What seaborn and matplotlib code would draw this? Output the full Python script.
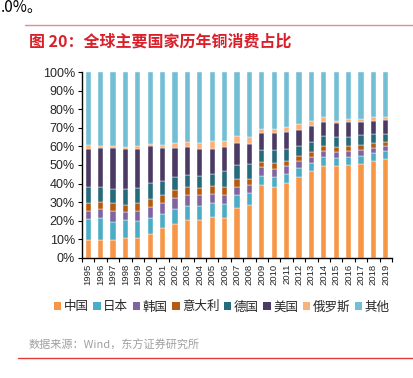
import numpy as np
import pandas as pd
import matplotlib
matplotlib.use("Agg")
import matplotlib.pyplot as plt
from matplotlib.patches import Patch
from matplotlib.ticker import PercentFormatter, FixedLocator
import seaborn as sns

years = [str(y) for y in range(1995, 2020)]

china   = [9.5, 9.8, 9.8, 10.5, 10.7, 12.7, 15.9, 18.2, 20.4, 20.4, 22.2, 21.3, 26.8,
           28.4, 39.1, 38.2, 40.4, 43.8, 46.6, 49.5, 49.5, 50.0, 50.4, 52.2, 53.4]
japan   = [11.3, 11.8, 9.7, 9.7, 9.3, 8.9, 7.5, 7.9, 7.8, 7.5, 7.1, 7.5, 7.1,
           6.6, 4.8, 5.4, 5.0, 4.6, 4.7, 4.8, 4.3, 4.3, 4.2, 4.3, 4.3]
korea   = [4.4, 4.7, 6.0, 4.3, 5.2, 5.7, 5.9, 5.9, 5.8, 5.7, 5.2, 4.9, 4.2,
           4.1, 5.1, 4.3, 3.9, 3.8, 3.2, 3.2, 3.0, 3.0, 3.2, 2.4, 2.3]
italy   = [4.4, 3.9, 4.0, 4.2, 4.5, 4.5, 4.7, 4.6, 4.2, 4.1, 4.1, 4.5, 4.4,
           3.6, 2.8, 3.2, 2.9, 2.4, 2.5, 2.7, 2.7, 2.7, 2.9, 2.9, 2.5]
germany = [8.5, 8.2, 7.8, 8.6, 8.2, 8.6, 7.6, 7.0, 6.6, 6.6, 6.8, 8.4, 7.7,
           7.9, 6.0, 6.7, 6.4, 5.6, 5.3, 5.4, 5.3, 5.3, 5.2, 5.0, 4.3]
usa     = [20.7, 20.7, 21.8, 21.1, 20.9, 19.6, 17.3, 15.5, 14.7, 14.3, 13.2, 12.9, 11.6,
           10.8, 9.2, 9.2, 8.9, 8.6, 8.6, 7.5, 7.7, 7.8, 7.2, 7.1, 7.5]
russia  = [1.7, 1.3, 1.3, 1.1, 1.2, 1.3, 1.8, 2.7, 2.6, 3.2, 4.1, 3.5, 4.0,
           3.8, 2.5, 2.5, 2.9, 3.2, 3.0, 2.6, 1.4, 1.4, 1.7, 1.8, 1.7]
others  = [39.5, 39.6, 39.6, 40.5, 40.0, 38.7, 39.3, 38.2, 37.9, 38.2, 37.3, 37.0, 34.2,
           34.8, 30.5, 30.5, 29.6, 28.0, 26.1, 24.3, 26.1, 25.5, 25.2, 24.3, 24.0]

names = ["中国", "日本", "韩国", "意大利", "德国", "美国", "俄罗斯", "其他"]
colors = ["#F79646", "#4BACC6", "#8064A2", "#B65A10", "#266B7C", "#4B3A63", "#FAB079", "#72BED5"]

df = pd.DataFrame({"年份": years, "中国": china, "日本": japan, "韩国": korea,
                   "意大利": italy, "德国": germany, "美国": usa,
                   "俄罗斯": russia, "其他": others})

sns.set_style("white")
plt.rcParams["font.family"] = ["Liberation Sans", "Noto Sans CJK SC", "DejaVu Sans"]
cjk = ["Noto Sans CJK SC", "DejaVu Sans"]

fig = plt.figure(figsize=(4.13, 3.78), dpi=100)
ax = fig.add_axes([0.1985, 0.3175, 0.7505, 0.492])

bottom = np.zeros(len(years))
for name, c in zip(names, colors):
    sns.barplot(data=df, x="年份", y=name, color=c, width=0.42, bottom=bottom,
                edgecolor="white", linewidth=0.3, saturation=1, ax=ax)
    bottom = bottom + df[name].values

ax.set_xlim(-0.5, len(years) - 0.5)
ax.set_ylim(0, 100)
ax.set_yticks(range(0, 101, 10))
ax.yaxis.set_major_formatter(PercentFormatter(decimals=0))
ax.set_xlabel("")
ax.set_ylabel("")
ax.tick_params(axis="y", labelsize=9, length=3, width=0.8, color="black", pad=2, left=True)
ax.tick_params(axis="x", which="major", labelsize=6.8, length=0, rotation=90, pad=4)
ax.xaxis.set_minor_locator(FixedLocator(np.arange(-0.5, len(years), 1)))
ax.tick_params(axis="x", which="minor", length=3, width=0.8, color="black", bottom=True)
for s in ["top", "right"]:
    ax.spines[s].set_visible(False)
for s in ["left", "bottom"]:
    ax.spines[s].set_color("black")
    ax.spines[s].set_linewidth(1)

handles = [Patch(facecolor=c, edgecolor="none") for c in colors]
fig.legend(handles, names, loc="center", bbox_to_anchor=(0.537, 0.188), ncol=8,
           frameon=False, handlelength=0.6, handleheight=0.6, handletextpad=0.2,
           columnspacing=0.35, prop={"family": cjk, "size": 9})

fig.text(0.002, 0.968, ".0%。", fontsize=11, family=cjk, va="baseline", color="black")
fig.add_artist(plt.Line2D([0.06, 1.0], [0.934, 0.934], color="#E88A8A", linewidth=1))
fig.text(0.07, 0.89, "图 20：全球主要国家历年铜消费占比", fontsize=11.5, fontweight="bold",
         family=cjk, color="#D9202A", va="center")
fig.text(0.07, 0.087, "数据来源：Wind，东方证券研究所", fontsize=8, family=cjk,
         color="#A0A0A0", va="center")
fig.add_artist(plt.Line2D([0.044, 1.0], [0.053, 0.053], color="#E23A3A", linewidth=1))

fig.savefig("out.png", dpi=100)
